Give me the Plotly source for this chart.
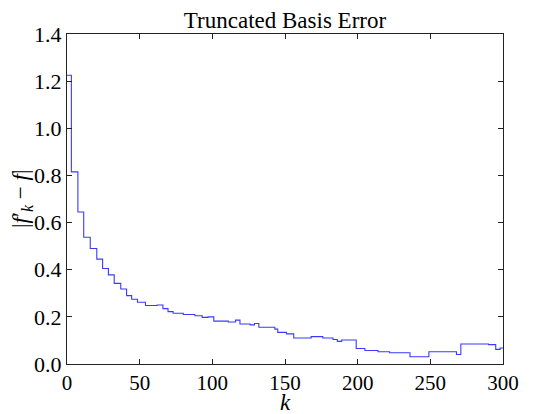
import plotly.graph_objects as go

# step breakpoints: k where a new error level begins
k_steps = [0, 3, 7.5, 11.5, 16, 20.5, 24.5, 28.5, 32.5, 37, 41, 44.5, 48.5, 54,
           62, 66, 69.5, 73, 80, 88, 93, 97, 101, 111, 116, 119, 126, 129, 132,
           143, 145, 151, 156, 168, 176, 183, 186, 189, 199, 205, 214, 222, 236,
           249, 268, 271, 290, 295, 298, 300]
err_steps = [1.225, 0.815, 0.645, 0.538, 0.49, 0.445, 0.405, 0.378, 0.342, 0.318,
             0.29, 0.275, 0.262, 0.248, 0.25, 0.235, 0.222, 0.215, 0.21, 0.205,
             0.198, 0.2, 0.182, 0.178, 0.186, 0.17, 0.166, 0.172, 0.156, 0.148,
             0.134, 0.128, 0.11, 0.116, 0.11, 0.104, 0.096, 0.102, 0.066, 0.057,
             0.052, 0.048, 0.031, 0.052, 0.04, 0.085, 0.082, 0.062, 0.068, 0.068]

x_ticks = [0, 50, 100, 150, 200, 250, 300]
y_ticks = [0.0, 0.2, 0.4, 0.6, 0.8, 1.0, 1.2, 1.4]

serif = "Liberation Serif, DejaVu Serif, serif"

fig = go.Figure(go.Scatter(
    x=k_steps, y=err_steps,
    mode="lines",
    line=dict(color="#3a3aff", width=1.1, shape="hv"),
    hoverinfo="skip",
))

axis_style = dict(
    showgrid=False, zeroline=False, automargin=False,
    showline=True, linecolor="#222222", linewidth=1, mirror="ticks",
    ticks="inside", ticklen=5, tickcolor="#222222", tickwidth=1,
    tickfont=dict(size=22, family=serif, color="black"),
)

fig.update_xaxes(range=[0, 300], tickvals=x_ticks, **axis_style)
fig.update_xaxes(tickfont_size=21)
fig.update_yaxes(range=[0, 1.4], tickvals=y_ticks, tickformat=".1f", **axis_style)

# axis labels as annotations so their spot is fixed
fig.add_annotation(text="<i>k</i>", x=0.5, y=-0.118, xref="paper", yref="paper",
                   yanchor="middle", showarrow=False,
                   font=dict(size=23, family=serif, color="black"))
fig.add_annotation(text="|<i>f</i>′<sub><i>k</i></sub> − <i>f</i>|",
                   x=-0.103, y=0.5, xref="paper", yref="paper", textangle=-90,
                   xanchor="center", yanchor="middle", showarrow=False,
                   font=dict(size=23, family=serif, color="black"))

# page body keeps an 8px margin, so the figure is 8px smaller than the window
fig.update_layout(
    width=542, height=406,
    margin=dict(l=59, r=47, t=26, b=50),
    paper_bgcolor="white", plot_bgcolor="white",
    showlegend=False,
    title=dict(text="Truncated Basis Error", x=0.5, xref="paper", y=0.99,
               yanchor="top", font=dict(size=23, family=serif, color="black")),
)

fig.write_html("out.html")
